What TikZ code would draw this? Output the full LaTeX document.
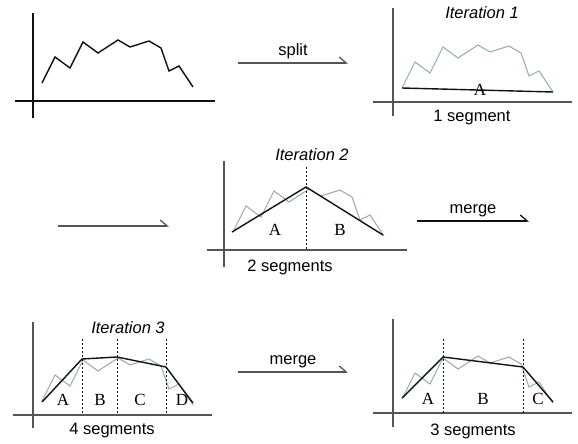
\documentclass[tikz,border=0pt]{standalone}
\usepackage{fontspec}
\setmainfont{Liberation Serif}
\setsansfont{Liberation Sans}
\usepackage{tikz}
\usetikzlibrary{arrows.meta}
\definecolor{segink}{HTML}{111111}
\definecolor{seggray}{HTML}{9AADB2}
\definecolor{segaxis}{HTML}{555555}
\tikzset{
  ax/.style={line width=1.3pt, color=segaxis},
  raw/.style={line width=1.1pt, color=seggray, line join=miter},
  segln/.style={line width=1.4pt, color=segink},
  cut/.style={line width=1pt, color=segink, dash pattern=on 2pt off 2pt},
  ttl/.style={font=\sffamily\itshape\fontsize{16.5}{19}\selectfont, inner sep=0pt},
  cnt/.style={font=\sffamily\fontsize{16.5}{19}\selectfont, inner sep=0pt},
  lt/.style={font=\fontsize{17}{19}\selectfont, inner sep=0pt},
  harr/.style={-{Straight Barb[harpoon, length=7pt, width=12pt, line width=1.3pt]}, line width=1.2pt, color=segaxis},
  arrlbl/.style={font=\sffamily\fontsize{16.5}{19}\selectfont, above, inner sep=3pt, text=black},
}
\newcommand\rawdata{(9,-14) -- (22,-40) -- (37,-29) -- (50,-55) -- (65,-44) -- (85,-57) -- (97,-50) -- (116,-56) -- (128,-49) -- (136,-26) -- (146,-31) -- (160,-10)}

\begin{document}
\begin{tikzpicture}[x=1pt, y=-1pt]
  \useasboundingbox (0,0) rectangle (578,444);
  % input series
  \begin{scope}[shift={(33,101)}]
    \draw[ax, segink] (0,-88) -- (0,17);
    \draw[ax, segink] (-18,0) -- (182,0);
    \draw[raw, segink, line width=1.4pt, yshift=4pt] \rawdata;
  \end{scope}
  % iteration 1
  \begin{scope}[shift={(393,102)}]
    \draw[ax] (0,-94) -- (0,14);
    \draw[ax] (-20,0) -- (179,0);
    \draw[raw] \rawdata;
    \draw[segln] (9,-14) -- (160,-10);
    \node[lt] (i1a) at (87,-12) {A};
    \node[ttl] (it1) at (89,-89) {Iteration 1};
    \node[cnt] (seg1) at (79,16) {1 segment};
  \end{scope}
  % iteration 2
  \begin{scope}[shift={(224,250)}]
    \draw[ax] (0,-89) -- (0,17);
    \draw[ax] (-17,0) -- (183,0);
    \draw[raw, yshift=4pt] \rawdata;
    \draw[cut] (82,-83) -- (82,0);
    \draw[segln] (8,-18) -- (82,-63) -- (159,-15);
    \node[lt] (i2a) at (51,-20) {A};
    \node[lt] (i2b) at (116,-20) {B};
    \node[ttl] (it2) at (88,-95) {Iteration 2};
    \node[cnt] (seg2) at (66,17) {2 segments};
  \end{scope}
  % iteration 3
  \begin{scope}[shift={(33,415)}]
    \draw[ax] (0,-93) -- (0,13);
    \draw[ax] (-20,0) -- (179,0);
    \draw[raw] \rawdata;
    \foreach \cx in {49,84,133}
      \draw[cut] (\cx,-76) -- (\cx,0);
    \draw[segln] (9,-13) -- (49,-56) -- (84,-58) -- (133,-48) -- (160,-12);
    \node[lt] (i3a) at (30,-15) {A};
    \node[lt] (i3b) at (67,-15) {B};
    \node[lt] (i3c) at (107,-15) {C};
    \node[lt] (i3d) at (149,-15) {D};
    \node[ttl] (it3) at (95,-87) {Iteration 3};
    \node[cnt] (seg4) at (79,16) {4 segments};
  \end{scope}
  % after merge
  \begin{scope}[shift={(393,413)}]
    \draw[ax] (0,-94) -- (0,14);
    \draw[ax] (-20,0) -- (179,0);
    \draw[raw] \rawdata;
    \foreach \cx in {50,130}
      \draw[cut] (\cx,-74) -- (\cx,0);
    \draw[segln] (9,-15) -- (50,-56) -- (130,-46) -- (160,-11);
    \node[lt] (mga) at (35,-14) {A};
    \node[lt] (mgb) at (90,-14) {B};
    \node[lt] (mgc) at (145,-14) {C};
    \node[cnt] (seg3) at (80,18) {3 segments};
  \end{scope}
  % arrows
  \coordinate (splitL) at (238,63);
  \coordinate (splitR) at (348,63);
  \coordinate (contL) at (58,226);
  \coordinate (contR) at (169,226);
  \coordinate (mergeAL) at (417,221);
  \coordinate (mergeAR) at (529,221);
  \coordinate (mergeBL) at (238,372);
  \coordinate (mergeBR) at (348,372);
  \draw[harr] (splitL) -- node[arrlbl] (splitlbl) {split} (splitR);
  \draw[harr] (contL) -- (contR);
  \draw[harr, segink] (mergeAL) -- node[arrlbl] (mergelblA) {merge} (mergeAR);
  \draw[harr] (mergeBL) -- node[arrlbl] (mergelblB) {merge} (mergeBR);
\end{tikzpicture}
\end{document}
